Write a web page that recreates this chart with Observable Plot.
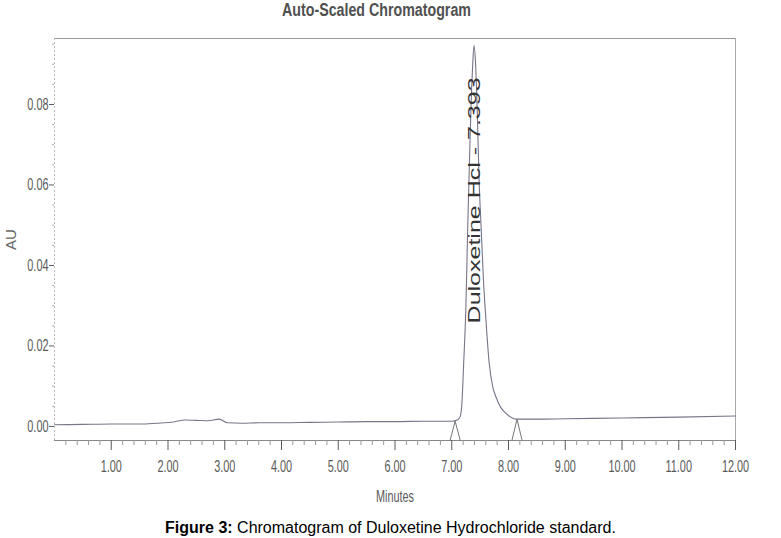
<!DOCTYPE html>
<html><head><meta charset="utf-8">
<script src="https://cdn.jsdelivr.net/npm/d3@7"></script>
<script src="https://cdn.jsdelivr.net/npm/@observablehq/plot@0.6"></script>
<style>
body{margin:0;background:#fff;width:781px;}
#title{height:22px;line-height:22px;text-align:center;padding-right:28px;}
#title span{display:inline-block;font:bold 18px "Liberation Sans",Arial,sans-serif;color:#505050;transform:scaleX(0.79);transform-origin:center;}
#cap{margin-top:7px;font:16px "Liberation Sans",Arial,sans-serif;text-align:center;color:#000;}
</style></head><body>
<div id="title"><span>Auto-Scaled Chromatogram</span></div>
<div id="chart"></div>
<div id="cap"><b>Figure 3:</b> Chromatogram of Duloxetine Hydrochloride standard.</div>
<script>
// Chromatogram trace (minutes, AU)
const time = [0.0, 0.5, 1.0, 1.5, 1.8, 2.1, 2.3, 2.5, 2.7, 2.9, 3.05, 3.3, 3.6, 4.0, 4.5, 5.0, 5.5, 6.0, 6.5, 7.0,
  7.10, 7.15, 7.18, 7.21, 7.25, 7.28, 7.32, 7.35, 7.37, 7.393, 7.42, 7.45, 7.48, 7.52, 7.56, 7.60, 7.66, 7.72, 7.78, 7.86, 7.96, 8.05, 8.13,
  8.5, 9.0, 10.0, 11.0, 12.0];
const au = [0.0004, 0.0005, 0.0006, 0.0006, 0.0008, 0.0011, 0.0016, 0.0015, 0.0014, 0.0018, 0.0009, 0.0008, 0.0009, 0.0009, 0.0010, 0.0011, 0.0012, 0.0012, 0.0013, 0.0013,
  0.0016, 0.0025, 0.0060, 0.0157, 0.0300, 0.0487, 0.0700, 0.0840, 0.0902, 0.0947, 0.0900, 0.0780, 0.0620, 0.0487, 0.0360, 0.0270, 0.0157, 0.0100, 0.0073, 0.0048, 0.0032, 0.0022, 0.0018,
  0.0018, 0.0019, 0.0021, 0.0023, 0.0026];
// Integration markers (start / end of peak)
const markerTime = [7.06, 8.15];
const markerAU = [0.0013, 0.0018];
// Peak annotation
const peakName = ["Duloxetine Hcl"];
const peakRT = [7.393];
const peakLabelAU = [0.0256];
// Axis ticks
const xTicks = [1, 2, 3, 4, 5, 6, 7, 8, 9, 10, 11, 12];
const yTicks = [0, 0.02, 0.04, 0.06, 0.08];
const yLabel = "AU";

const yMin = -0.0035, yMax = 0.0964;
const chrom = time.map((t, i) => ({t, au: au[i]}));
const half = 0.09;
const tri = markerTime.flatMap((t, i) => [
  {id: i, t: t - half, au: yMin},
  {id: i, t: t, au: markerAU[i]},
  {id: i, t: t + half, au: yMin}
]);
const labels = peakName.map((n, i) => ({t: peakRT[i], au: peakLabelAU[i], text: `${n} - ${peakRT[i].toFixed(3)}`}));
const xMinor = d3.range(1, 60).map(k => k / 5).filter(v => Math.abs(v - Math.round(v)) > 1e-9);
const yMinor = d3.range(1, 20).map(k => k * 0.005).filter(v => Math.abs(v * 50 - Math.round(v * 50)) > 1e-9);

const chart = Plot.plot({
  width: 781, height: 490,
  marginTop: 16, marginBottom: 72, marginLeft: 54, marginRight: 46,
  style: {fontFamily: '"Liberation Sans",Arial,sans-serif', fontSize: "17px", color: "#555", background: "#fff"},
  x: {domain: [0, 12]},
  y: {domain: [yMin, yMax]},
  marks: [
    Plot.frame({anchor: "top", stroke: "#999"}),
    Plot.frame({anchor: "right", stroke: "#aaa"}),
    Plot.frame({anchor: "bottom", stroke: "#888"}),
    Plot.frame({anchor: "left", stroke: "#bbb", strokeDasharray: "1,3"}),
    Plot.axisY(yTicks, {tickSize: 5, tickPadding: 1, tickFormat: d3.format(".2f"), label: yLabel, labelArrow: "none", labelAnchor: "center", labelOffset: 49, color: "#5a5a5a"}),
    Plot.axisY(yMinor, {tickSize: 2, text: null, label: null, stroke: "#aaa"}),
    Plot.axisX(xTicks, {tickSize: 10, tickPadding: 9, tickFormat: d3.format(".2f"), label: "Minutes", labelArrow: "none", labelAnchor: "center", labelOffset: 61, color: "#5a5a5a"}),
    Plot.axisX(xMinor, {tickSize: 5, text: null, label: null, stroke: "#999"}),
    Plot.line(tri, {x: "t", y: "au", z: "id", stroke: "#777", strokeWidth: 1}),
    Plot.line(chrom, {x: "t", y: "au", stroke: "#7a7488", strokeWidth: 1.1, curve: "monotone-x"}),
    Plot.text(labels, {x: "t", y: "au", text: "text", rotate: -90, textAnchor: "start", fontSize: 17, fill: "#333"})
  ]
});
document.getElementById("chart").appendChild(chart);
// narrow the axis text like the instrument's condensed print font; stretch the peak label
d3.select(chart).selectAll("text").each(function() {
  const t = d3.select(this);
  const s = this.textContent;
  if (s.startsWith(peakName[0])) {
    t.attr("textLength", 246).attr("lengthAdjust", "spacingAndGlyphs");
  } else if (s === yLabel) {
    t.style("font-size", "15px").attr("fill", "#666");
  } else {
    const len = this.getComputedTextLength();
    if (len > 0) t.attr("textLength", (len * 0.64).toFixed(1)).attr("lengthAdjust", "spacingAndGlyphs");
  }
});
</script>
</body></html>
